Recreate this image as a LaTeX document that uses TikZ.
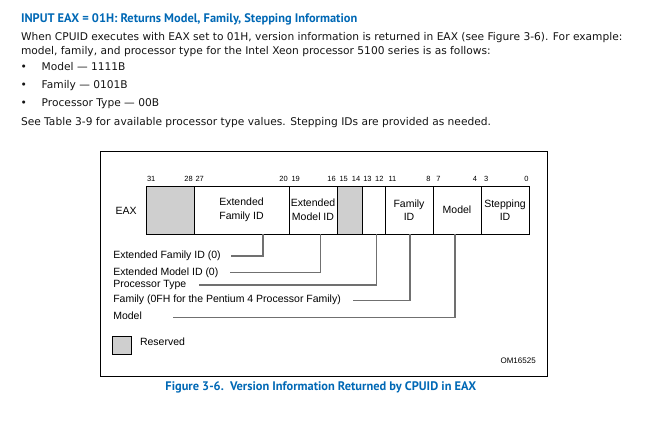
\documentclass[tikz,border=0pt]{standalone}
\usepackage{fontspec}
\setmainfont{DejaVu Sans}
\newfontfamily\headfont{PT Sans}
\newfontfamily\figfont{Liberation Sans}
\usetikzlibrary{positioning}
\definecolor{intelblue}{RGB}{0,104,181}
\definecolor{rsvgray}{RGB}{207,207,207}
\definecolor{leadgray}{RGB}{112,112,112}

\begin{document}
\begin{tikzpicture}[x=1pt, y=-1pt,
    every node/.style={inner sep=0pt, outer sep=0pt},
    head/.style={font=\headfont\bfseries\fontsize{12.4}{14}\selectfont, text=intelblue, anchor=base west},
    body/.style={font=\fontsize{10.65}{13}\selectfont, text=black!92, anchor=base west},
    fld/.style={draw, line width=0.9pt, minimum height=48pt, anchor=north west, align=center,
        font=\figfont\fontsize{10.5}{13.6}\selectfont},
    rsv/.style={fld, fill=rsvgray},
    bitno/.style={font=\figfont\fontsize{7.5}{9}\selectfont},
    lbl/.style={font=\figfont\fontsize{10.5}{12}\selectfont, anchor=base west},
    lead/.style={draw=leadgray, line width=1.4pt}]
    \useasboundingbox (0,0) rectangle (659,421);

    % text above the figure
    \node[head] (title) at (21,22) {INPUT EAX = 01H: Returns Model, Family, Stepping Information};
    \node[body] (para1) at (21,40.7) {When CPUID executes with EAX set to 01H, version information is returned in EAX (see Figure 3-6). For example:};
    \node[body] (para2) at (21,54) {model, family, and processor type for the Intel Xeon processor 5100 series is as follows:};
    \foreach \by/\btxt [count=\bi] in {70/{Model --- 1111B}, 88.3/{Family --- 0101B}, 106.7/{Processor Type --- 00B}} {
        \node[body] (dot\bi) at (20.5,\by) {•};
        \node[body] (item\bi) at (41.7,\by) {\btxt};
    }
    \node[body] (para3) at (21,125.7) {See Table 3-9 for available processor type values. Stepping IDs are provided as needed.};

    % figure frame
    \draw[line width=1.2pt] (100.7,151.7) rectangle (547.7,376.7);

    % EAX register fields
    \node[lbl] (eax) at (115.7,214) {EAX};
    \node[rsv, minimum width=48pt] (rsvhi) at (146,186) {};
    \node[fld, minimum width=95pt] (extfam) at (194,186) {Extended\\Family ID};
    \node[fld, minimum width=48pt] (extmod) at (289,186) {Extended\\Model ID};
    \node[rsv, minimum width=25pt] (rsvlo) at (337,186) {};
    \node[fld, minimum width=23pt] (proctype) at (362,186) {};
    \node[fld, minimum width=48pt] (famid) at (385,186) {Family\\ID};
    \node[fld, minimum width=48pt] (model) at (433,186) {Model};
    \node[fld, minimum width=48pt] (stepid) at (481,186) {Stepping\\ID};

    % bit numbers
    \foreach \bx/\bn/\ba in {147/31/west, 192.7/28/east, 195.5/27/west, 287.7/20/east,
        291.5/19/west, 335.7/16/east, 339.5/15/west, 360.3/14/east, 363.3/13/west,
        383.5/12/east, 388.5/11/west, 430.5/8/east, 436.3/7/west, 477/4/east,
        484/3/west, 528.5/0/east}
        \node[bitno, anchor=base \ba] (bit\bn) at (\bx,181.7) {\bn};

    % field descriptions
    \node[lbl] (lextfam) at (113.3,258) {Extended Family ID (0)};
    \node[lbl] (lextmod) at (113.3,275) {Extended Model ID (0)};
    \node[lbl] (lproc) at (113.3,287.3) {Processor Type};
    \node[lbl] (lfam) at (113.3,302.7) {Family (0FH for the Pentium 4 Processor Family)};
    \node[lbl] (lmod) at (113.3,319.3) {Model};

    \draw[lead] ([xshift=21.5pt]extfam.south) |- ([xshift=10pt,yshift=2pt]lextfam.base east);
    \draw[lead] ([xshift=7.3pt]extmod.south) |- ([xshift=12pt,yshift=2.3pt]lextmod.base east);
    \draw[lead] ([xshift=3.2pt]proctype.south) |- ([xshift=13pt,yshift=2.3pt]lproc.base east);
    \draw[lead] ([xshift=1pt]famid.south) |- ([xshift=12.4pt,yshift=2pt]lfam.base east);
    \draw[lead] ([xshift=-2pt]model.south) |- ([xshift=31pt,yshift=1.6pt]lmod.base east);

    % key and figure id
    \node[draw, fill=rsvgray, line width=0.9pt, minimum width=18.7pt, minimum height=18pt, anchor=north west] (keybox) at (112.3,336) {};
    \node[lbl] (lkey) at (140,345) {Reserved};
    \node[bitno, font=\figfont\fontsize{8}{9}\selectfont, anchor=base east] (omid) at (535.7,363.5) {OM16525};

    % caption
    \node[head, anchor=base] (caption) at (320.8,390.7) {Figure 3-6.\ \ Version Information Returned by CPUID in EAX};
\end{tikzpicture}
\end{document}
